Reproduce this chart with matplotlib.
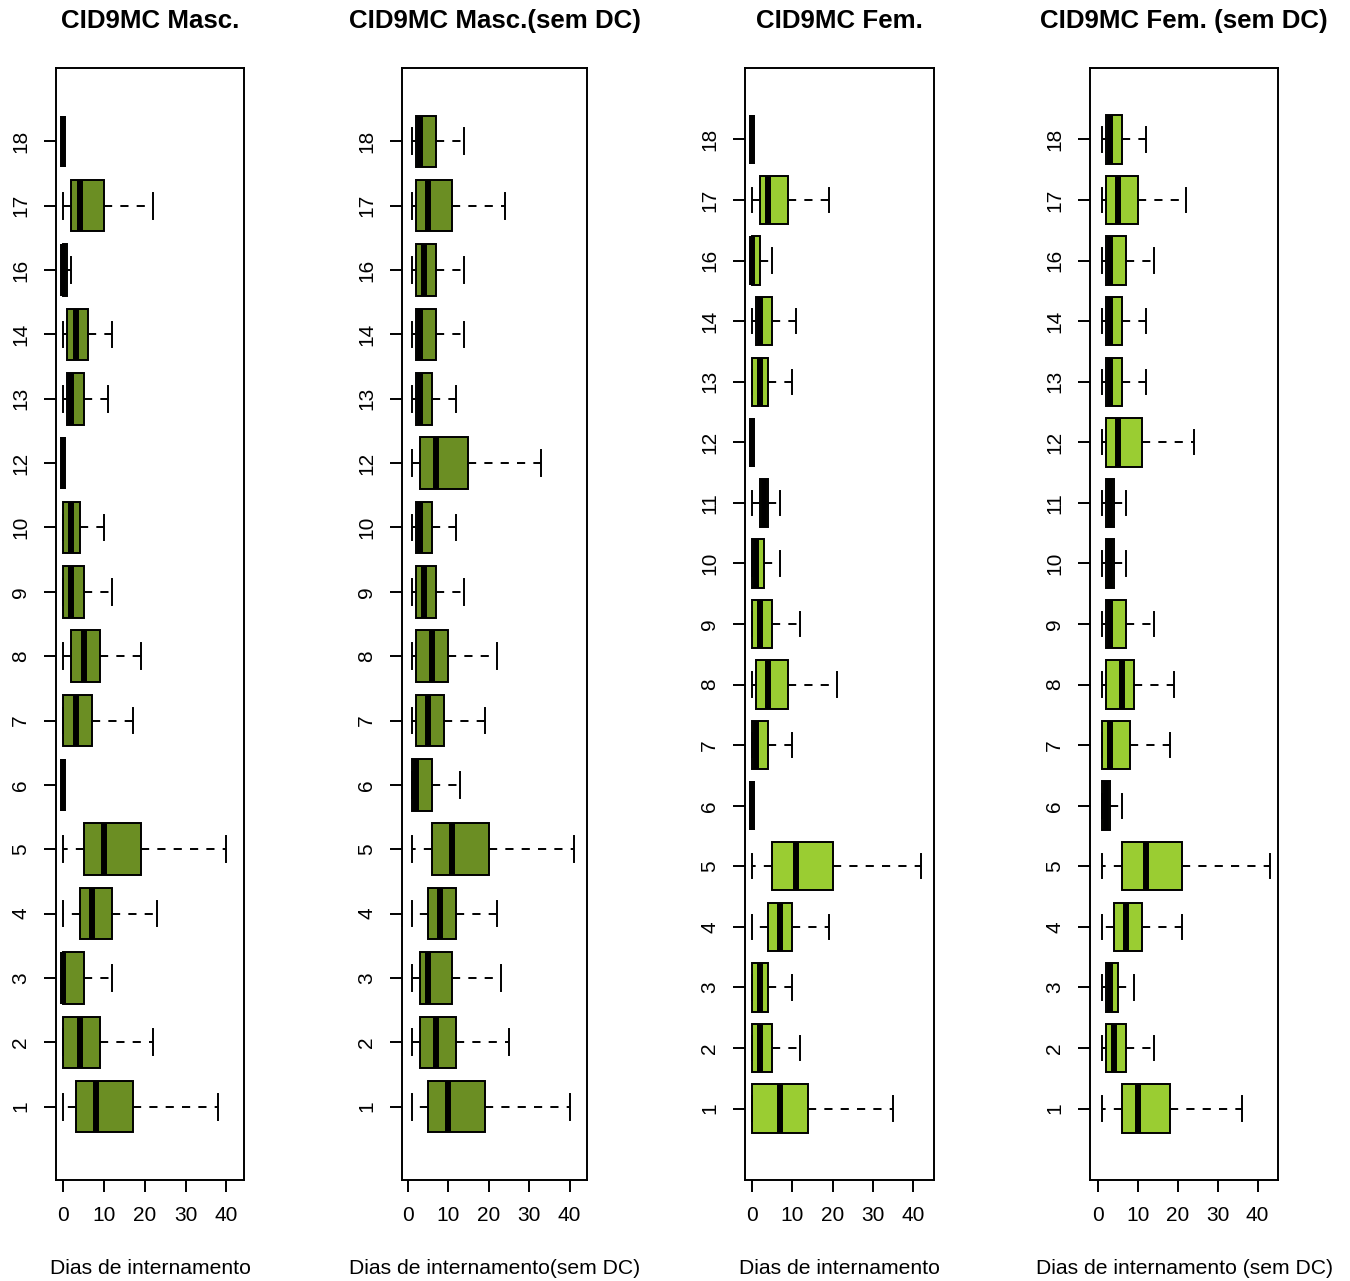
import matplotlib.pyplot as plt

plt.rcParams['font.family'] = ['Liberation Sans', 'DejaVu Sans']

# categories (CID9MC chapters)
cats_masc = ["1", "2", "3", "4", "5", "6", "7", "8", "9", "10", "12", "13", "14", "16", "17", "18"]
cats_fem = ["1", "2", "3", "4", "5", "6", "7", "8", "9", "10", "11", "12", "13", "14", "16", "17", "18"]

# (whisker low, q1, median, q3, whisker high) per category
masc = [(0, 3, 8, 17, 38), (0, 0, 4, 9, 22), (0, 0, 0, 5, 12), (0, 4, 7, 12, 23),
        (0, 5, 10, 19, 40), (0, 0, 0, 0, 0), (0, 0, 3, 7, 17), (0, 2, 5, 9, 19),
        (0, 0, 2, 5, 12), (0, 0, 2, 4, 10), (0, 0, 0, 0, 0), (0, 1, 2, 5, 11),
        (0, 1, 3, 6, 12), (0, 0, 0, 1, 2), (0, 2, 4, 10, 22), (0, 0, 0, 0, 0)]
masc_sem_dc = [(1, 5, 10, 19, 40), (1, 3, 7, 12, 25), (1, 3, 5, 11, 23), (1, 5, 8, 12, 22),
               (1, 6, 11, 20, 41), (1, 1, 2, 6, 13), (1, 2, 5, 9, 19), (1, 2, 6, 10, 22),
               (1, 2, 4, 7, 14), (1, 2, 3, 6, 12), (1, 3, 7, 15, 33), (1, 2, 3, 6, 12),
               (1, 2, 3, 7, 14), (1, 2, 4, 7, 14), (1, 2, 5, 11, 24), (1, 2, 3, 7, 14)]
fem = [(0, 0, 7, 14, 35), (0, 0, 2, 5, 12), (0, 0, 2, 4, 10), (0, 4, 7, 10, 19),
       (0, 5, 11, 20, 42), (0, 0, 0, 0, 0), (0, 0, 1, 4, 10), (0, 1, 4, 9, 21),
       (0, 0, 2, 5, 12), (0, 0, 1, 3, 7), (0, 2, 3, 4, 7), (0, 0, 0, 0, 0),
       (0, 0, 2, 4, 10), (0, 1, 2, 5, 11), (0, 0, 0, 2, 5), (0, 2, 4, 9, 19), (0, 0, 0, 0, 0)]
fem_sem_dc = [(1, 6, 10, 18, 36), (1, 2, 4, 7, 14), (1, 2, 3, 5, 9), (1, 4, 7, 11, 21),
              (1, 6, 12, 21, 43), (1, 1, 2, 3, 6), (1, 1, 3, 8, 18), (1, 2, 6, 9, 19),
              (1, 2, 3, 7, 14), (1, 2, 3, 4, 7), (1, 2, 3, 4, 7), (1, 2, 5, 11, 24),
              (1, 2, 3, 6, 12), (1, 2, 3, 6, 12), (1, 2, 3, 7, 14), (1, 2, 5, 10, 22),
              (1, 2, 3, 6, 12)]

titles = ["CID9MC Masc.", "CID9MC Masc.(sem DC)", "CID9MC Fem.", "CID9MC Fem. (sem DC)"]
xlabels = ["Dias de internamento", "Dias de internamento(sem DC)",
           "Dias de internamento", "Dias de internamento (sem DC)"]
xticks = [0, 10, 20, 30, 40]

W, H = 1350, 1281
fig = plt.figure(figsize=(W / 100, H / 100), dpi=100)

# pixel layout of each panel: left, right, xlim
layout = [(56, 244, (-1.8, 44.3)), (402, 587, (-1.4, 44.3)),
          (745, 934, (-1.66, 45.1)), (1090, 1278, (-1.9, 45.1))]
top, bottom = 68, 1180

panels = [(cats_masc, masc, "#6B8E23"), (cats_masc, masc_sem_dc, "#6B8E23"),
          (cats_fem, fem, "#9ACD32"), (cats_fem, fem_sem_dc, "#9ACD32")]

for i, ((cats, stats, color), (x0, x1, xlim)) in enumerate(zip(panels, layout)):
    ax = fig.add_axes([x0 / W, (H - bottom) / H, (x1 - x0) / W, (bottom - top) / H])
    n = len(cats)
    bstats = [dict(whislo=s[0], q1=s[1], med=s[2], q3=s[3], whishi=s[4], label=c)
              for c, s in zip(cats, stats)]
    ax.bxp(bstats, positions=range(1, n + 1), widths=0.8, orientation="horizontal",
           patch_artist=True, showfliers=False,
           boxprops=dict(facecolor=color, edgecolor="black", linewidth=1.4),
           medianprops=dict(color="black", linewidth=4.3, solid_capstyle="butt"),
           whiskerprops=dict(color="black", linewidth=1.4, linestyle=(0, (4.2, 4.2))),
           capprops=dict(color="black", linewidth=1.4))
    ax.set_xlim(*xlim)
    ax.set_ylim(0.5 - 0.04 * n, n + 0.5 + 0.04 * n)
    ax.set_xticks(xticks)
    ax.set_xticklabels([str(t) for t in xticks])
    ax.tick_params(axis="both", length=8.6, width=1.4, labelsize=15)
    ax.tick_params(axis="x", pad=10)
    ax.tick_params(axis="y", pad=10, labelrotation=90)
    for lab in ax.get_yticklabels():
        lab.set_va("center")
    for sp in ax.spines.values():
        sp.set_linewidth(1.4)
    ax.set_title(titles[i], fontsize=18.6, fontweight="bold", pad=29)
    ax.set_xlabel(xlabels[i], fontsize=15.2)
    ax.xaxis.set_label_coords(0.5, -(1259 - bottom) / (bottom - top))

fig.savefig("out.png", dpi=100)
